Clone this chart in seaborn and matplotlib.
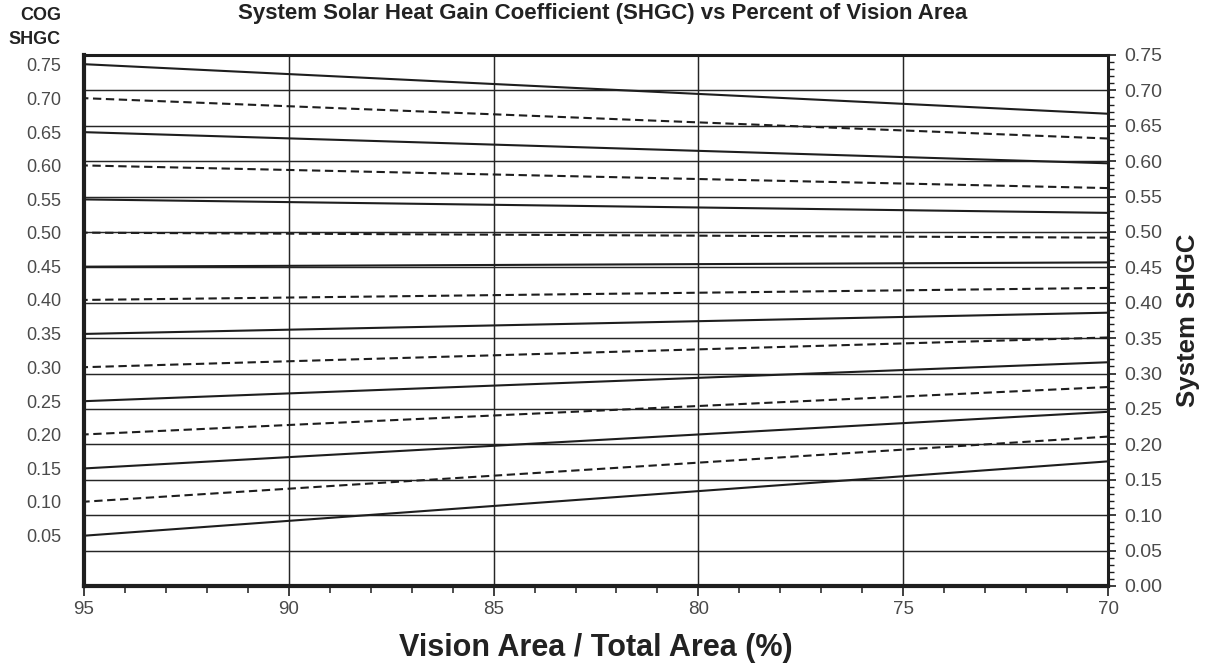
import numpy as np
import pandas as pd
import matplotlib
matplotlib.use("Agg")
import matplotlib.pyplot as plt
import matplotlib.ticker as mticker
import seaborn as sns

# Centre-of-glass SHGC for each curve, top to bottom
cog_shgc = [0.75, 0.70, 0.65, 0.60, 0.55, 0.50, 0.45, 0.40,
            0.35, 0.30, 0.25, 0.20, 0.15, 0.10, 0.05]
cog_labels = ["0.75", "0.70", "0.65", "0.60", "0.55", "0.50", "0.45", "0.40",
              "0.35", "0.30", "0.25", "0.20", "0.15", "0.10", "0.05"]
line_kind = ["solid", "dashed"] * 7 + ["solid"]

# Vision area share (%) at the two ends of each curve
vision_area = [95, 70]

# System SHGC at 95 % and at 70 % vision area
system_at_95 = [0.737, 0.689, 0.641, 0.594, 0.546, 0.499, 0.451, 0.404,
                0.356, 0.309, 0.261, 0.214, 0.166, 0.119, 0.071]
system_at_70 = [0.667, 0.632, 0.597, 0.562, 0.527, 0.492, 0.457, 0.421,
                0.386, 0.351, 0.316, 0.281, 0.246, 0.211, 0.176]

# Right-hand System SHGC scale
system_ticks = [0.00, 0.05, 0.10, 0.15, 0.20, 0.25, 0.30, 0.35,
                0.40, 0.45, 0.50, 0.55, 0.60, 0.65, 0.70, 0.75]
area_ticks = [95, 90, 85, 80, 75, 70]

rows = []
for i, c in enumerate(cog_shgc):
    for x, y in zip(vision_area, (system_at_95[i], system_at_70[i])):
        rows.append({"curve": c, "area": x, "shgc": y, "kind": line_kind[i]})
df = pd.DataFrame(rows)

sns.set_theme(style="white")
plt.rcParams["font.family"] = ["Liberation Sans", "DejaVu Sans"]

fig = plt.figure(figsize=(12.12, 6.64), dpi=100)
ax = fig.add_axes([0.0693, 0.1175, 0.8449, 0.7997])

label_grey = "#4a4a4a"
ink = "#1e1e1e"

# horizontal grid on the System SHGC scale
for v in system_ticks[1:-1]:
    ax.axhline(v, color="#262626", lw=1.05, zorder=1)

sns.lineplot(data=df, x="area", y="shgc", units="curve", estimator=None,
             style="kind", dashes={"solid": "", "dashed": (4, 2.2)},
             color=ink, linewidth=1.5, legend=False, ax=ax, zorder=3)

ax.set_xlim(95, 70)
ax.set_ylim(0, 0.75)

ax.xaxis.set_major_locator(mticker.FixedLocator(area_ticks))
ax.xaxis.set_minor_locator(mticker.MultipleLocator(1))
ax.set_xticklabels([str(t) for t in area_ticks])
ax.grid(axis="x", which="major", color="#262626", lw=1.05, zorder=1)
ax.grid(axis="y", visible=False)
ax.tick_params(axis="x", which="major", direction="out", length=7, width=1.2,
               color=ink, labelsize=13.5, labelcolor=label_grey, pad=3.5,
               bottom=True)
ax.tick_params(axis="x", which="minor", direction="out", length=5, width=1.1,
               color=ink, bottom=True)

# Left axis: curve labels at each curve's starting value
ax.set_yticks(system_at_95)
ax.set_yticklabels(cog_labels)
ax.tick_params(axis="y", which="both", left=False, length=0, labelsize=13,
               labelcolor=label_grey, pad=16.5)
ax.set_xlabel("Vision Area / Total Area (%)", fontsize=22, fontweight="bold",
              color="#222222", labelpad=11)
ax.set_ylabel("")

# Right axis: System SHGC scale
sec = ax.secondary_yaxis("right")
sec.set_yticks(system_ticks)
sec.set_yticklabels([f"{t:.2f}" for t in system_ticks])
sec.yaxis.set_minor_locator(mticker.MultipleLocator(0.01))
sec.tick_params(axis="y", which="major", direction="out", length=6, width=1.2,
                color=ink, labelsize=14, labelcolor=label_grey, pad=5.5)
sec.tick_params(axis="y", which="minor", direction="out", length=4, width=1.0,
                color=ink)
sec.set_ylabel("System SHGC", fontsize=18.5, fontweight="bold",
               color="#222222", labelpad=10)
sec.spines["right"].set_visible(False)

for side, w in (("left", 3.0), ("bottom", 3.0), ("top", 2.2), ("right", 2.2)):
    ax.spines[side].set_visible(True)
    ax.spines[side].set_color(ink)
    ax.spines[side].set_linewidth(w)
    ax.spines[side].set_zorder(5)

fig.text(0.4975, 1 - 13 / 664, "System Solar Heat Gain Coefficient (SHGC) vs Percent of Vision Area",
         ha="center", va="center", fontsize=16, fontweight="bold", color="#222222")
fig.text(61 / 1212, 1 - 7 / 664, "COG\nSHGC", ha="right", va="top", fontsize=13,
         fontweight="bold", color="#222222", linespacing=1.5)

fig.savefig("out.png", dpi=100)
